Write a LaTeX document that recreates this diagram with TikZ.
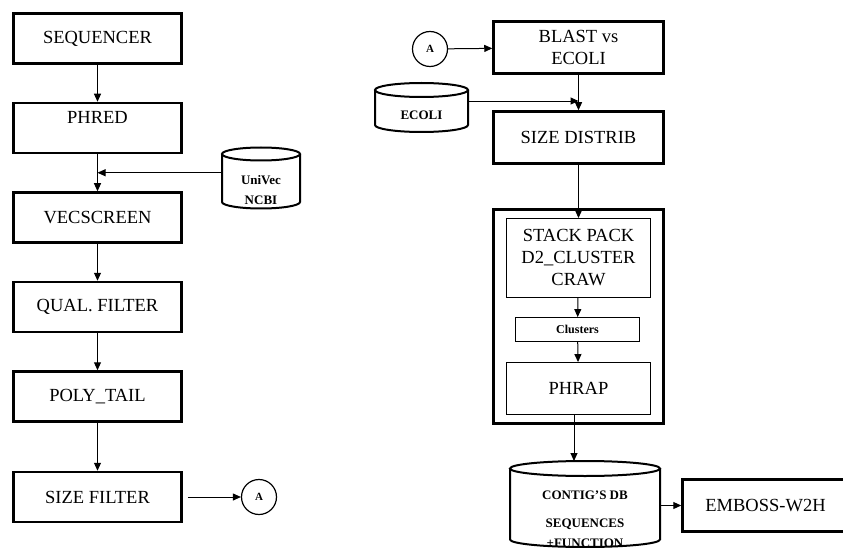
\documentclass[tikz,border=0pt]{standalone}
\usepackage{fontspec}
\setmainfont{Liberation Serif}
\usetikzlibrary{arrows.meta, calc}

\begin{document}
\begin{tikzpicture}[x=1pt,y=-1pt,->,>={Triangle[length=8pt,width=7pt]},line width=1pt,
  node distance=89.5pt,
  main box/.style={rectangle,draw,line width=2.5pt,minimum width=168pt,minimum height=50pt,
    align=center,font=\fontsize{18.5}{22}\selectfont},
  inner box/.style={rectangle,draw,line width=0.9pt,minimum width=144pt,align=center,
    font=\fontsize{18.5}{22}\selectfont},
  db/.style={rectangle,inner sep=0pt,outer sep=0pt},
  db line/.style={-,line width=2pt},
  db text/.style={align=center,font=\fontsize{13}{20}\selectfont\bfseries},
  link/.style={circle,draw,line width=1.2pt,minimum size=35pt,inner sep=0pt,
    font=\fontsize{11}{13}\selectfont\bfseries}]

  \useasboundingbox (0,0) rectangle (843,548);

  % cleaning chain
  \node[main box] (seq) at (97.5,38.5) {SEQUENCER};
  \node[main box] (phred) [below of=seq] {\raisebox{11pt}[\height][\depth]{PHRED}};
  \node[main box] (vecscreen) [below of=phred] {VECSCREEN};
  \node[main box] (qual) [below of=vecscreen] {QUAL. FILTER};
  \node[main box] (polytail) [below of=qual] {POLY\_TAIL};
  \node[main box] (sizefilter) [below of=polytail, node distance=100.5pt] {SIZE FILTER};
  \node[link] (linkA1) at (259,497) {A};

  \node[db, minimum width=78pt, minimum height=61pt] (univec) at (261,178) {};
  \node[db text] (univectxt) at (261,190.5) {UniVec\\NCBI};
  \coordinate (join1) at ($(phred.south)!0.5!(vecscreen.north)$);

  \path (seq) edge (phred)
    (phred) edge (vecscreen)
    (vecscreen) edge (qual)
    (qual) edge (polytail)
    (polytail) edge (sizefilter);
  \draw (univec.west |- join1) -- (join1);
  \draw[shorten <=5pt] (sizefilter) -- (linkA1);

  % assembly chain
  \node[link] (linkA2) at (430,49) {A};
  \node[main box, minimum width=170pt, minimum height=52pt] (blast) at (578.5,47.5) {BLAST vs\\ECOLI};
  \node[main box, minimum width=170pt, minimum height=52pt] (sizedist) at (578.5,137.5) {SIZE DISTRIB};
  \node[db, minimum width=93pt, minimum height=49pt] (ecoli) at (421.5,107.5) {};
  \node[db text] (ecolitxt) at (421.5,115) {ECOLI};
  \coordinate (join2) at ($(blast.south)!0.74!(sizedist.north)$);

  \node[draw, line width=3pt, minimum width=170pt, minimum height=214pt] (pipeline) at (578.5,316.5) {};
  \node[inner box, minimum height=79pt] (stack) at (578.5,258) {STACK PACK\\D2\_CLUSTER\\CRAW};
  \node[inner box, minimum width=124pt, minimum height=24pt, font=\fontsize{12}{14}\selectfont\bfseries] (clusters) at (577.5,329.5) {Clusters};
  \node[inner box, minimum height=52pt] (phrap) at (578.5,388.5) {PHRAP};

  \node[db, minimum width=150pt, minimum height=86pt] (contig) at (585,504) {};
  \node[db text] (contigtxt) at (585,519.5) {CONTIG'S DB\\[8pt]SEQUENCES\\+FUNCTION};
  \node[main box, minimum width=166pt, minimum height=52pt] (emboss) at (765.5,505.5) {EMBOSS-W2H};

  % database drums
  \foreach \n/\w/\r in {univec/39/6.5, ecoli/46.5/7, contig/75/7.5} {
    \draw[db line] ($(\n.north west)+(0,\r)$) -- ($(\n.south west)+(0,-\r)$)
      arc[start angle=180, end angle=360, x radius=\w pt, y radius=\r pt]
      -- ($(\n.north east)+(0,\r)$);
    \draw[db line] ($(\n.north)+(0,\r)$) ellipse[x radius=\w pt, y radius=\r pt];
  }

  \draw (linkA2) -- (blast);
  \path (blast) edge (sizedist)
    (sizedist) edge (stack)
    (stack) edge (clusters)
    (clusters) edge (phrap);
  \draw (ecoli.east |- join2) -- (join2);
  \draw ([xshift=-4.5pt]phrap.south) -- ([xshift=-4.5pt]phrap.south |- contig.north);
  \draw (emboss.west -| contig.east) -- (emboss.west);
\end{tikzpicture}
\end{document}
